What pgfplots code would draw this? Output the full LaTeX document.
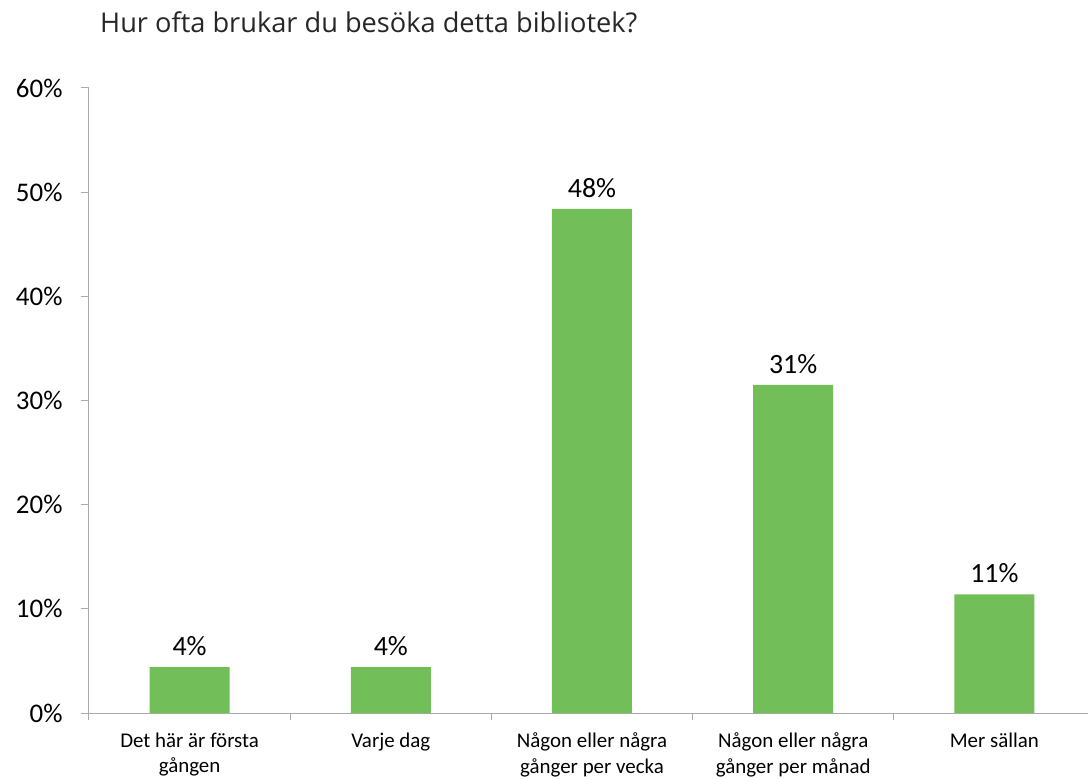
\documentclass[border=0pt]{standalone}
\usepackage{fontspec}
\setmainfont{Carlito}
\newfontfamily\titlefont{Open Sans}
\usepackage{pgfplots}
\pgfplotsset{compat=1.18}
\definecolor{barg}{RGB}{114,191,90}
\definecolor{axg}{RGB}{170,170,170}
\begin{document}
\begin{tikzpicture}
\useasboundingbox (-89bp,-66bp) rectangle (999bp,713bp);
\begin{axis}[
    at={(0,0)}, anchor=south west,
    width=1006bp, height=625bp, scale only axis,
    xmin=-0.5, xmax=4.5, ymin=0, ymax=60,
    axis lines*=left,
    axis line style={axg, line width=1bp},
    tick align=outside,
    major tick length=8bp, minor tick length=7bp,
    ytick={0,10,...,60},
    yticklabels={0\%,10\%,20\%,30\%,40\%,50\%,60\%},
    yticklabel style={font=\fontsize{27}{30}\selectfont, xshift=-15bp},
    ytick style={axg, line width=1bp},
    xtick={0,...,4},
    xticklabels={{Det här är första\\gången},{Varje dag},{Någon eller några\\gånger per vecka},{Någon eller några\\gånger per månad},{Mer sällan}},
    xticklabel style={font=\fontsize{21}{26}\selectfont, align=center, yshift=-8bp},
    major x tick style={draw=none},
    minor xtick={-0.5,0.5,...,4.5},
    minor x tick style={axg, line width=1bp},
    ybar, bar width=80bp,
    nodes near coords,
    point meta=explicit symbolic,
    nodes near coords style={font=\fontsize{28}{30}\selectfont, anchor=south, inner sep=0pt, yshift=11bp},
]
\addplot[fill=barg, draw=none] coordinates {
    (0,4.4) [4\%]
    (1,4.4) [4\%]
    (2,48.4) [48\%]
    (3,31.5) [31\%]
    (4,11.4) [11\%]
};
\end{axis}
\node[anchor=base west, inner sep=0pt, font=\titlefont\fontsize{27.3}{32}\selectfont, text=black!85] at (11bp,680bp) {Hur ofta brukar du besöka detta bibliotek?};
\end{tikzpicture}
\end{document}
